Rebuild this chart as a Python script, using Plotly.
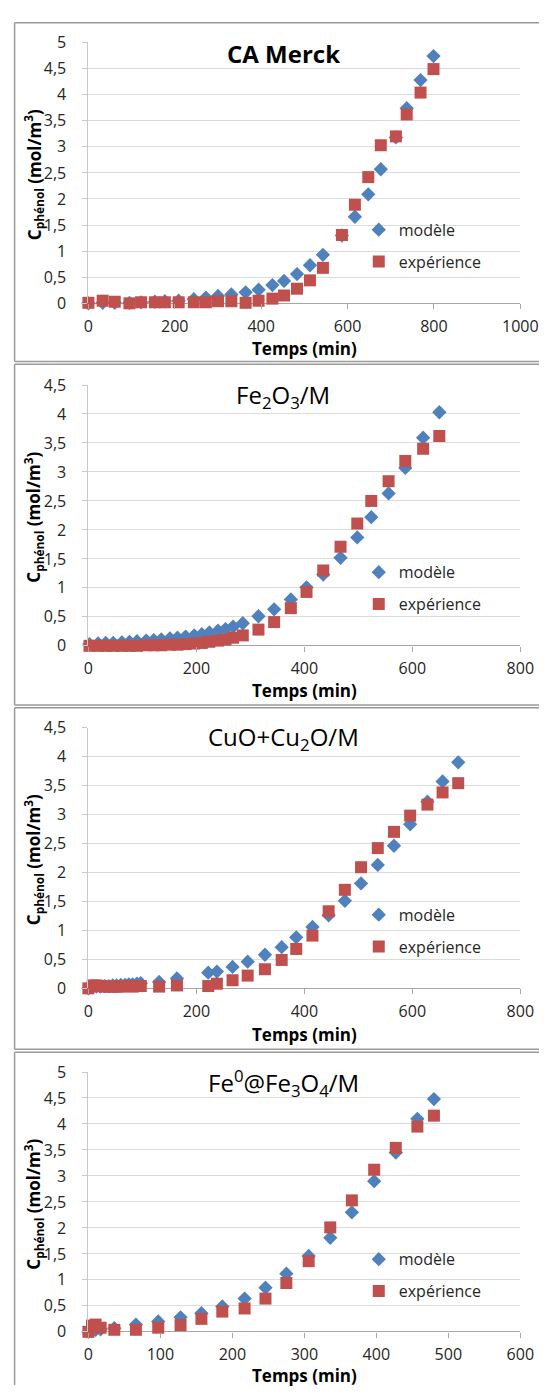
import plotly.graph_objects as go

W, H = 557, 1396

# ---------------- data ----------------
# Panel 1 : CA Merck
t1 = [0, 33, 61, 95, 122, 154, 177, 209, 244, 272, 300, 331, 364, 394, 426, 453,
      483, 513, 543, 587, 617, 648, 677, 712, 737, 769, 799]
mod1 = [0.0, 0.01, 0.01, 0.01, 0.02, 0.03, 0.04, 0.05, 0.08, 0.11, 0.14, 0.17, 0.21,
        0.26, 0.35, 0.43, 0.56, 0.73, 0.93, 1.30, 1.66, 2.09, 2.57, 3.18, 3.74, 4.28, 4.74]
exp1 = [0.01, 0.05, 0.03, 0.0, 0.02, 0.02, 0.02, 0.02, 0.02, 0.02, 0.04, 0.04, 0.01,
        0.05, 0.09, 0.15, 0.28, 0.44, 0.68, 1.31, 1.89, 2.42, 3.03, 3.20, 3.62, 4.04, 4.49]

# Panel 2 : Fe2O3/M
t2 = [2, 18, 32, 46, 62, 76, 90, 107, 121, 135, 151, 165, 180, 196, 210, 224, 240,
      254, 268, 286, 315, 344, 375, 404, 435, 467, 498, 524, 556, 587, 620, 650]
mod2 = [0.03, 0.04, 0.05, 0.05, 0.06, 0.07, 0.08, 0.09, 0.10, 0.11, 0.13, 0.14, 0.16,
        0.18, 0.20, 0.23, 0.26, 0.29, 0.33, 0.39, 0.51, 0.63, 0.80, 1.01, 1.23, 1.52,
        1.87, 2.22, 2.63, 3.07, 3.59, 4.03]
exp2 = [0.0, 0.0, 0.0, 0.0, 0.0, 0.0, 0.0, 0.01, 0.01, 0.01, 0.02, 0.02, 0.03, 0.04,
        0.05, 0.07, 0.09, 0.11, 0.14, 0.18, 0.28, 0.41, 0.65, 0.93, 1.30, 1.71, 2.11,
        2.50, 2.84, 3.19, 3.40, 3.62]

# Panel 3 : CuO+Cu2O/M
t3 = [0, 8, 15, 22, 30, 38, 45, 52, 60, 68, 75, 82, 90, 97, 131, 164, 222, 238, 267,
      295, 327, 358, 385, 415, 445, 475, 505, 536, 566, 596, 628, 656, 685]
mod3 = [0.0, 0.02, 0.03, 0.03, 0.04, 0.04, 0.05, 0.05, 0.06, 0.06, 0.07, 0.07, 0.08,
        0.09, 0.11, 0.17, 0.27, 0.29, 0.37, 0.46, 0.58, 0.71, 0.88, 1.06, 1.26, 1.51,
        1.81, 2.13, 2.46, 2.83, 3.22, 3.57, 3.90]
exp3 = [0.0, 0.05, 0.05, 0.04, 0.03, 0.03, 0.03, 0.03, 0.03, 0.04, 0.04, 0.03, 0.04,
        0.04, 0.03, 0.05, 0.04, 0.08, 0.14, 0.22, 0.33, 0.49, 0.68, 0.91, 1.33, 1.70,
        2.09, 2.42, 2.70, 2.98, 3.17, 3.38, 3.54]

# Panel 4 : Fe0@Fe3O4/M
t4 = [0, 5, 10, 17, 36, 66, 97, 128, 157, 186, 217, 246, 275, 306, 336, 366, 397,
      427, 457, 480]
mod4 = [0.0, 0.02, 0.04, 0.05, 0.07, 0.14, 0.20, 0.28, 0.36, 0.49, 0.64, 0.85, 1.12,
        1.46, 1.81, 2.30, 2.90, 3.45, 4.10, 4.48]
exp4 = [0.0, 0.12, 0.14, 0.08, 0.04, 0.04, 0.08, 0.13, 0.25, 0.39, 0.45, 0.64, 0.94,
        1.36, 2.01, 2.53, 3.12, 3.54, 3.95, 4.16]

titles = ["<b>CA Merck</b>", "Fe<sub>2</sub>O<sub>3</sub>/M",
          "CuO+Cu<sub>2</sub>O/M", "Fe<sup>0</sup>@Fe<sub>3</sub>O<sub>4</sub>/M"]
x_max = [1000, 800, 800, 600]
x_dtick = [200, 200, 200, 100]
y_max = [5, 4.5, 4.5, 5]
series_names = ["modèle", "expérience"]

# ---------------- layout geometry (pixels) ----------------
FONT = "Open Sans"
BLUE = "#4F81BD"
RED = "#C0504D"
plot_left, plot_right = 87, 537.5
plot_tops = [32, 380, 728, 1078]
plot_bottoms = [297, 645, 993, 1342]
box_tops = [12, 359, 708, 1058]
box_bottoms = [356, 705, 1055, None]
xtitle_y = [343, 690, 1040, 1386]


def px(x):
    return x / W


def py(y):
    return 1 - y / H


def line(x0, y0, x1, y1, color="#9A9A9A", width=1.5):
    return dict(type="line", xref="paper", yref="paper",
                x0=px(x0), y0=py(y0), x1=px(x1), y1=py(y1),
                line=dict(color=color, width=width), layer="below")


data = [(t1, mod1, exp1), (t2, mod2, exp2), (t3, mod3, exp3), (t4, mod4, exp4)]

fig = go.Figure()
annotations = []
shapes = []
layout_extra = {}

for i, (t, m, e) in enumerate(data):
    k = "" if i == 0 else str(i + 1)
    leg = "legend" + k
    fig.add_trace(go.Scatter(
        x=t, y=m, mode="markers", name=series_names[0],
        marker=dict(symbol="diamond", size=11, color=BLUE),
        xaxis="x" + k, yaxis="y" + k, legend=leg, legendgroup="m" + k,
        cliponaxis=False))
    fig.add_trace(go.Scatter(
        x=t, y=e, mode="markers", name=series_names[1],
        marker=dict(symbol="square", size=12, color=RED),
        xaxis="x" + k, yaxis="y" + k, legend=leg, legendgroup="e" + k,
        cliponaxis=False))

    layout_extra["xaxis" + k] = dict(
        domain=[px(plot_left), px(plot_right)], anchor="y" + k,
        range=[0, x_max[i]], dtick=x_dtick[i], tick0=0,
        showgrid=False, zeroline=False, showline=False,
        ticks="outside", ticklen=5, tickcolor="#A6A6A6",
        tickfont=dict(family=FONT, size=16, color="#262626"),
        ticklabelstandoff=3)
    layout_extra["yaxis" + k] = dict(
        domain=[py(plot_bottoms[i]), py(plot_tops[i])], anchor="x" + k,
        range=[0, y_max[i]], dtick=0.5, tick0=0,
        showgrid=True, gridcolor="#DCDCDC", gridwidth=1,
        zeroline=True, zerolinecolor="#A6A6A6", zerolinewidth=1,
        showline=True, linecolor="#C8C8C8", linewidth=1,
        ticks="outside", ticklen=5, tickcolor="#C8C8C8",
        tickfont=dict(family=FONT, size=16, color="#262626"),
        ticklabelstandoff=13)
    layout_extra[leg] = dict(
        x=px(369), y=py(plot_tops[i] + 173), xanchor="left", yanchor="top",
        bgcolor="rgba(0,0,0,0)", borderwidth=0, tracegroupgap=8,
        font=dict(family=FONT, size=16, color="#262626"))

    # panel title
    annotations.append(dict(
        text=titles[i], x=px(290), y=py(plot_tops[i] + 11),
        xref="paper", yref="paper", showarrow=False,
        xanchor="center", yanchor="middle",
        font=dict(family=FONT, size=24, color="#000000")))
    # x-axis title
    annotations.append(dict(
        text="<b>Temps (min)</b>", x=px(312), y=py(xtitle_y[i]),
        xref="paper", yref="paper", showarrow=False,
        xanchor="center", yanchor="middle",
        font=dict(family=FONT, size=17, color="#000000")))
    # y-axis title
    annotations.append(dict(
        text="<b>C<sub>phénol</sub> (mol/m<sup>3</sup>)</b>",
        x=px(30), y=py(plot_tops[i] + 134), textangle=-90,
        xref="paper", yref="paper", showarrow=False,
        xanchor="center", yanchor="middle",
        font=dict(family=FONT, size=17, color="#000000")))
    # panel frame (kept inside the page)
    top = box_tops[i]
    bottom = box_bottoms[i] if box_bottoms[i] is not None else H
    shapes.append(line(10, top, W, top))
    shapes.append(line(10, top, 10, bottom))
    if box_bottoms[i] is not None:
        shapes.append(line(10, bottom, W, bottom))

fig.update_layout(
    width=W, height=H,
    margin=dict(l=0, r=0, t=0, b=0),
    paper_bgcolor="white", plot_bgcolor="white",
    separators=", ",
    showlegend=True,
    annotations=annotations,
    shapes=shapes,
    font=dict(family=FONT, size=16, color="#262626"),
    **layout_extra,
)

fig.write_html(
    "out.html",
    config={"displayModeBar": False},
    post_script="document.body.style.margin='0';document.body.style.overflow='hidden';",
)
